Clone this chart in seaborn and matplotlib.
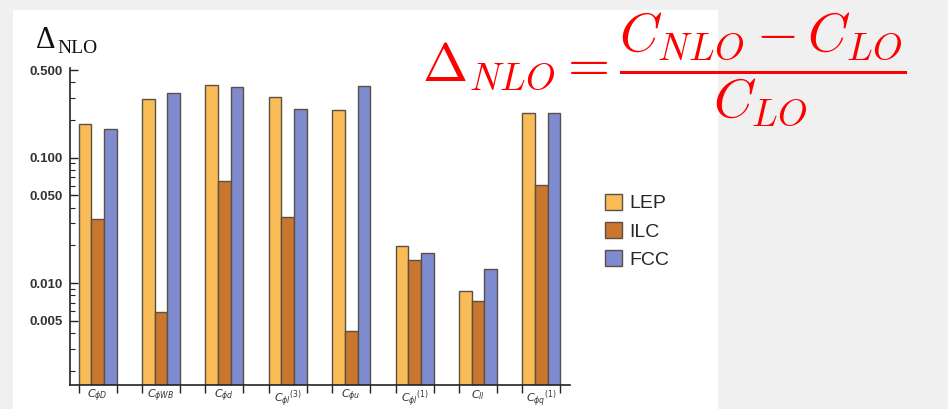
import numpy as np
import pandas as pd
import matplotlib
matplotlib.use("Agg")
import matplotlib.pyplot as plt
import matplotlib.ticker as mticker
from matplotlib.patches import Rectangle, Patch
import seaborn as sns

# Wilson coefficients and relative NLO corrections per collider
operators = [r"$C_{\phi D}$", r"$C_{\phi WB}$", r"$C_{\phi d}$", r"$C_{\phi l}{}^{(3)}$",
             r"$C_{\phi u}$", r"$C_{\phi l}{}^{(1)}$", r"$C_{ll}$", r"$C_{\phi q}{}^{(1)}$"]
colliders = ["LEP", "ILC", "FCC"]
lep = [0.184, 0.295, 0.382, 0.302, 0.238, 0.0199, 0.0086, 0.228]
ilc = [0.0327, 0.00585, 0.0647, 0.0337, 0.00413, 0.0153, 0.0072, 0.061]
fcc = [0.170, 0.325, 0.363, 0.246, 0.373, 0.0175, 0.0130, 0.228]
ytick_vals = [0.005, 0.010, 0.050, 0.100, 0.500]
ytick_labels = ["0.005", "0.010", "0.050", "0.100", "0.500"]

colors = {"LEP": "#F9BC56", "ILC": "#C9762F", "FCC": "#7F8BCF"}

df = pd.DataFrame({
    "operator": np.repeat(operators, 3),
    "collider": colliders * len(operators),
    "value": np.ravel(np.column_stack([lep, ilc, fcc])),
})

sns.set_theme(style="white")
plt.rcParams["font.family"] = ["Liberation Sans", "DejaVu Sans"]

W, H = 948, 409
fig = plt.figure(figsize=(W / 100, H / 100), dpi=100, facecolor="#F0F0F0")
# white panel behind the chart
fig.patches.append(Rectangle((13 / W, 0), (718 - 13) / W, (H - 10) / H,
                             transform=fig.transFigure, facecolor="white",
                             edgecolor="none", zorder=-5))

ax_left, ax_right, ax_top, ax_bot = 70, 570, 67.9, 385
ax = fig.add_axes([ax_left / W, 1 - ax_bot / H, (ax_right - ax_left) / W,
                   (ax_bot - ax_top) / H])
ax.set_zorder(2)
ax.set_facecolor("none")

sns.barplot(data=df, x="operator", y="value", hue="collider", order=operators,
            hue_order=colliders, palette=colors, width=0.6, gap=0,
            edgecolor="#5a5045", linewidth=1.0, saturation=1, ax=ax,
            legend=False)

ax.set_yscale("log")
ax.set_ylim(0.00154, 0.52)
ax.set_xlim(-0.435, 7.45)

for s in ["top", "right"]:
    ax.spines[s].set_visible(False)
for s in ["left", "bottom"]:
    ax.spines[s].set_color("#222222")
    ax.spines[s].set_linewidth(1.2)

# y ticks: inward, Mathematica style
ax.yaxis.set_major_locator(mticker.FixedLocator(ytick_vals))
ax.yaxis.set_major_formatter(mticker.FixedFormatter(ytick_labels))
ax.yaxis.set_minor_locator(mticker.LogLocator(base=10, subs=np.arange(2, 10)))
ax.yaxis.set_minor_formatter(mticker.NullFormatter())
ax.tick_params(axis="y", which="major", direction="in", length=6, width=1.0,
               color="#222222", labelsize=9.5, pad=5, left=True)
ax.tick_params(axis="y", which="minor", direction="in", length=3.5, width=0.8,
               color="#222222", left=True)
for lbl in ax.get_yticklabels():
    lbl.set_fontweight("bold")
    lbl.set_color("#333333")

# x: labels at group centres, tick marks at group edges
ax.set_xticks(range(len(operators)))
ax.set_xticklabels(operators, fontsize=8, color="#333333")
ax.tick_params(axis="x", which="major", length=0, pad=2)
edges = np.ravel([[i - 0.3, i + 0.3] for i in range(len(operators))])
ax.set_xticks(edges, minor=True)
ax.tick_params(axis="x", which="minor", direction="out", length=6, width=1.0,
               color="#222222", bottom=True)
ax.set_xlabel("")
ax.set_ylabel("")

# axis title
fig.text(36 / W, 1 - 48 / H, "\u0394", fontsize=22, color="#111111",
         family="Liberation Serif", ha="left", va="baseline")
fig.text(57 / W, 1 - 53 / H, "NLO", fontsize=14, color="#111111",
         family="Liberation Serif", ha="left", va="baseline")

# legend
handles = [Patch(facecolor=colors[c], edgecolor="#5a5045", linewidth=1.0, label=c)
           for c in colliders]
fig.legend(handles=handles, loc="upper left", bbox_to_anchor=(605 / W, 1 - 194 / H),
           frameon=False, fontsize=14, handlelength=0.85, handleheight=0.85,
           handletextpad=0.4, labelspacing=0.5, borderpad=0, borderaxespad=0)

# definition of the correction
fig.text(422 / W, 1 - 69 / H,
         r"$\Delta_{NLO} = \dfrac{C_{NLO} - C_{LO}}{C_{LO}}$",
         fontsize=39, color="#FF0000", ha="left", va="center",
         math_fontfamily="cm")

fig.savefig("out.png", dpi=100, facecolor=fig.get_facecolor())
